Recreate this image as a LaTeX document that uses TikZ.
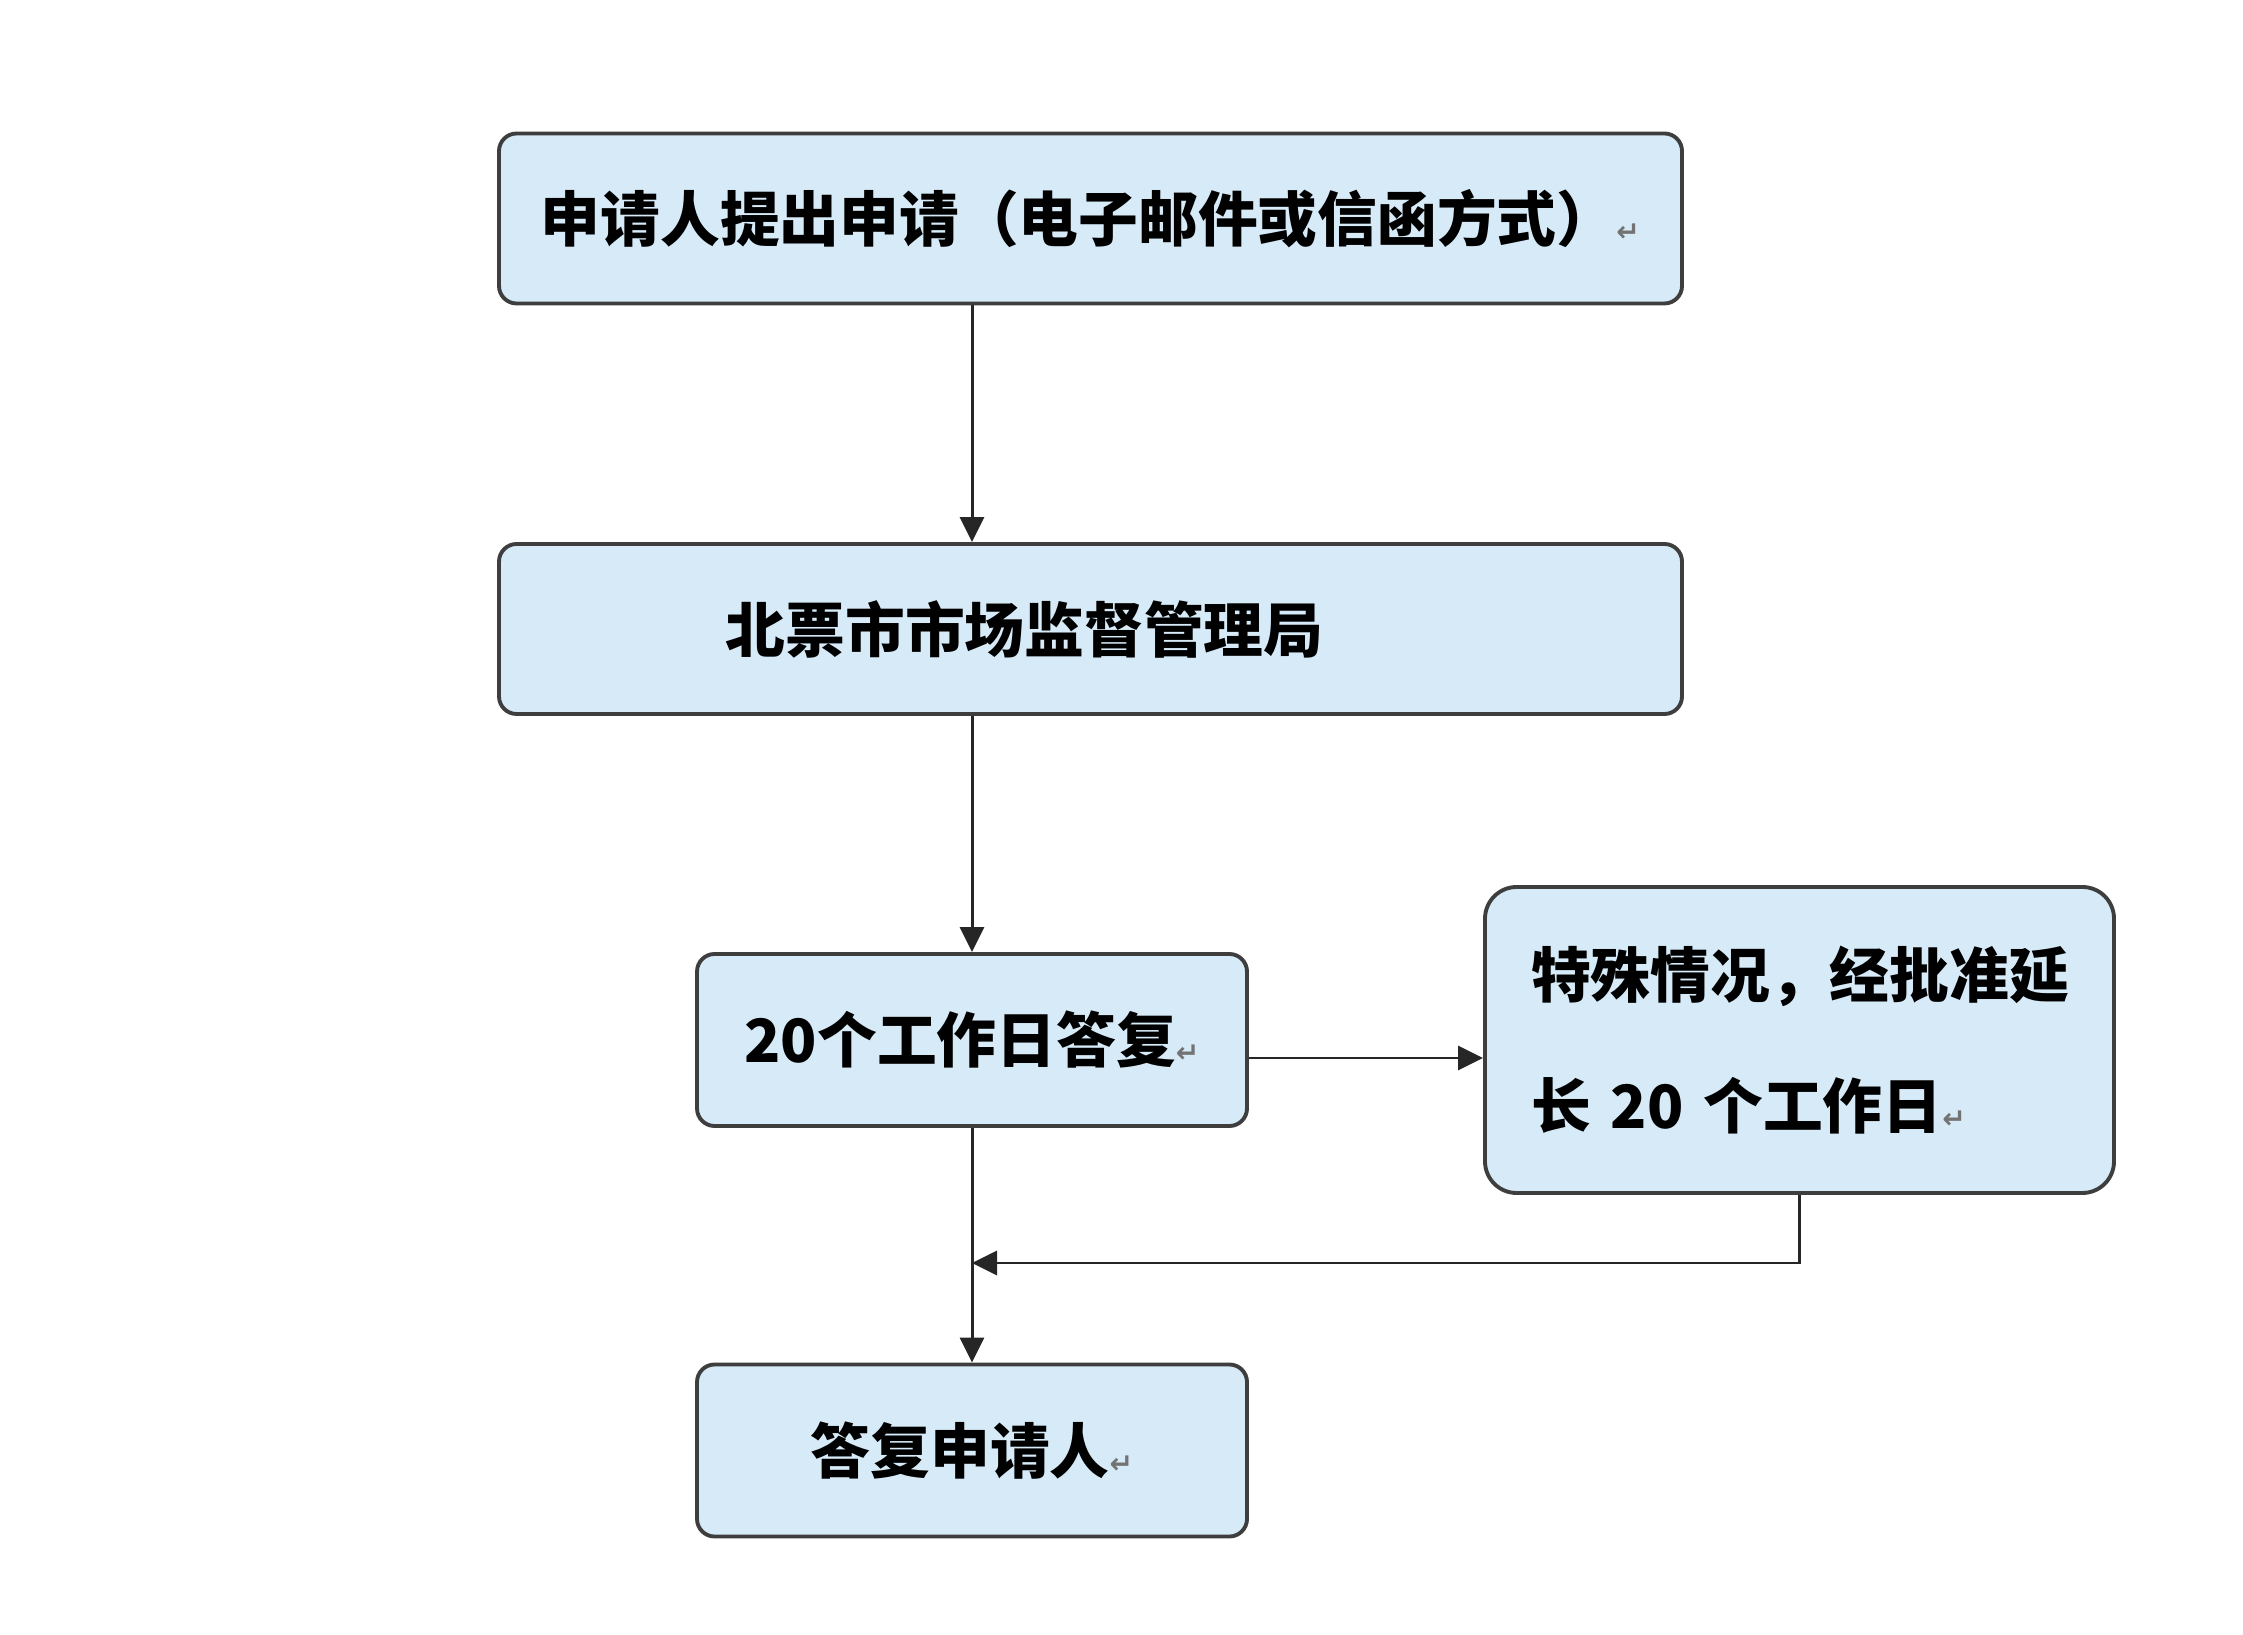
\documentclass[tikz,border=0pt]{standalone}
\usepackage{fontspec}
\usepackage{tikz}
\usetikzlibrary{arrows.meta,positioning}
\newfontfamily\cjk{Noto Sans CJK SC}
\newfontfamily\symfont{DejaVu Sans}
\definecolor{boxfill}{RGB}{214,234,247}
\definecolor{boxline}{RGB}{62,62,62}
\newcommand{\pmark}{\textcolor{black!55}{\symfont\fontsize{8}{8}\selectfont ↵}}

\begin{document}
\begin{tikzpicture}[
 box/.style={rectangle,draw=boxline,fill=boxfill,line width=1.1pt,rounded corners=5pt,
             inner sep=0pt,font=\cjk\bfseries\fontsize{17}{20}\selectfont},
 widebox/.style={box,minimum width=11.83cm,minimum height=1.70cm},
 smallbox/.style={box,minimum width=5.50cm,minimum height=1.72cm},
 sidebox/.style={box,rounded corners=9pt,minimum width=6.29cm,minimum height=3.06cm,
                 text width=5.37cm,inner xsep=0.46cm,align=left,
                 font=\cjk\bfseries\fontsize{17}{37.4}\selectfont},
 arrow/.style={-{Triangle[length=0.25cm,width=0.24cm]},line width=0.85pt,draw=black!85}
]
\useasboundingbox[fill=white] (0,0) rectangle (22.43,-16.35);
\node[widebox] (apply) at (10.905,-2.185) {申请人提出申请（电子邮件或信函方式）\pmark};
\node[widebox] (bureau) at (10.905,-6.29) {北票市市场监督管理局\kern1.32cm};
\node[smallbox] (reply) at (9.72,-10.40) {20个工作日答复\pmark};
\node[sidebox] (extend) at (17.995,-10.40) {特殊情况，经批准延\\长 20 个工作日\pmark};
\node[smallbox] (answer) at (9.72,-14.505) {答复申请人\pmark};
\coordinate (join) at (9.72,-12.63);
\draw[arrow] (reply |- apply.south) -- (reply |- bureau.north);
\draw[arrow] (reply |- bureau.south) -- (reply.north);
\draw[arrow] ([yshift=-0.18cm]reply.east) -- ([yshift=-0.18cm]extend.west);
\draw[arrow] (extend.south) |- (join);
\draw[arrow] (reply.south) -- (answer.north);
\end{tikzpicture}
\end{document}
